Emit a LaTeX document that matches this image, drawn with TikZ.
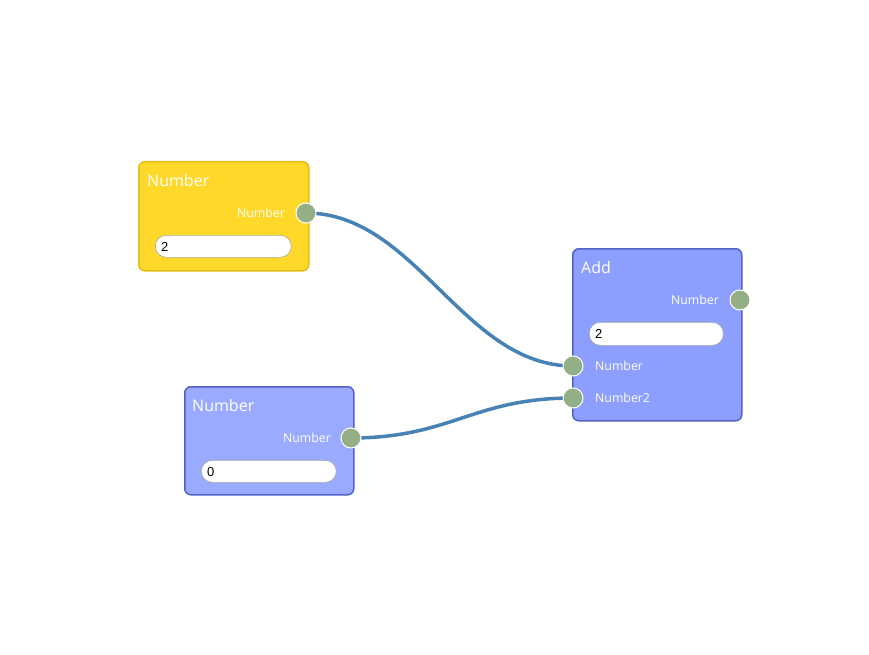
\documentclass[tikz,border=0pt]{standalone}
\usepackage{fontspec}
\setmainfont{Open Sans}
\newfontfamily\fieldfont{Liberation Sans}
\usetikzlibrary{backgrounds}
\definecolor{ylwfill}{HTML}{FFD82A}
\definecolor{ylwline}{HTML}{E3BE12}
\definecolor{bluefill}{HTML}{9AABFF}
\definecolor{addfill}{HTML}{8C9FFF}
\definecolor{blueline}{HTML}{5461C6}
\definecolor{portfill}{HTML}{94AE86}
\definecolor{wire}{HTML}{4682B4}
\definecolor{fieldline}{HTML}{A8A8A8}
\tikzset{
  box/.style={draw, line width=1.5pt, rounded corners=6pt, anchor=north west, inner sep=0pt},
  ybox/.style={box, fill=ylwfill, draw=ylwline},
  bbox/.style={box, fill=bluefill, draw=blueline},
  abox/.style={box, fill=addfill, draw=blueline},
  title/.style={anchor=base west, text=white, font=\fontsize{16}{19}\selectfont, inner sep=0pt},
  plabel/.style={text=white, font=\fontsize{12.3}{14}\selectfont, inner sep=0pt},
  port/.style={circle, fill=portfill, draw=white, line width=1pt, minimum size=20pt, inner sep=0pt},
  field/.style={draw=fieldline, fill=white, line width=0.6pt, rounded corners=11pt, anchor=north west, inner sep=0pt},
  fieldtext/.style={anchor=base west, font=\fieldfont\fontsize{13}{15}\selectfont, inner sep=0pt},
  wirestyle/.style={draw=wire, line width=3.5pt}
}
\begin{document}
\begin{tikzpicture}[x=1pt, y=-1pt]
\useasboundingbox (0,0) rectangle (869,655);
% Yellow Number node
\node[ybox, minimum width=170pt, minimum height=109pt] (n1) at (138,161) {};
\node[title] (n1t) at (147,186) {Number};
\node[plabel, anchor=east] (n1l) at (285,213) {Number};
\node[field, minimum width=136pt, minimum height=22pt] (n1f) at (155,235) {};
\node[fieldtext] (n1v) at (161,251) {2};
\node[port] (n1o) at (306,213) {};
% Blue Number node
\node[bbox, minimum width=169pt, minimum height=108pt] (n2) at (184,386) {};
\node[title] (n2t) at (192,411) {Number};
\node[plabel, anchor=east] (n2l) at (331,438) {Number};
\node[field, minimum width=135pt, minimum height=22pt] (n2f) at (201,460) {};
\node[fieldtext] (n2v) at (207,476) {0};
\node[port] (n2o) at (351,438) {};
% Add node
\node[abox, minimum width=169pt, minimum height=172pt] (ad) at (572,248) {};
\node[title] (adt) at (581,273) {Add};
\node[plabel, anchor=east] (adl) at (719,300) {Number};
\node[field, minimum width=134pt, minimum height=23pt] (adf) at (589,322) {};
\node[fieldtext] (adv) at (595,338) {2};
\node[plabel, anchor=west] (adi1l) at (595,366) {Number};
\node[plabel, anchor=west] (adi2l) at (595,398) {Number2};
\node[port] (ado) at (740,300) {};
\node[port] (adi1) at (573,366) {};
\node[port] (adi2) at (573,398) {};
% Wires
\begin{pgfonlayer}{background}
\draw[wirestyle] (n1o.center) .. controls +(110,0) and +(-110,0) .. (adi1.center);
\draw[wirestyle] (n2o.center) .. controls +(100,0) and +(-100,0) .. (adi2.center);
\end{pgfonlayer}
\end{tikzpicture}
\end{document}
